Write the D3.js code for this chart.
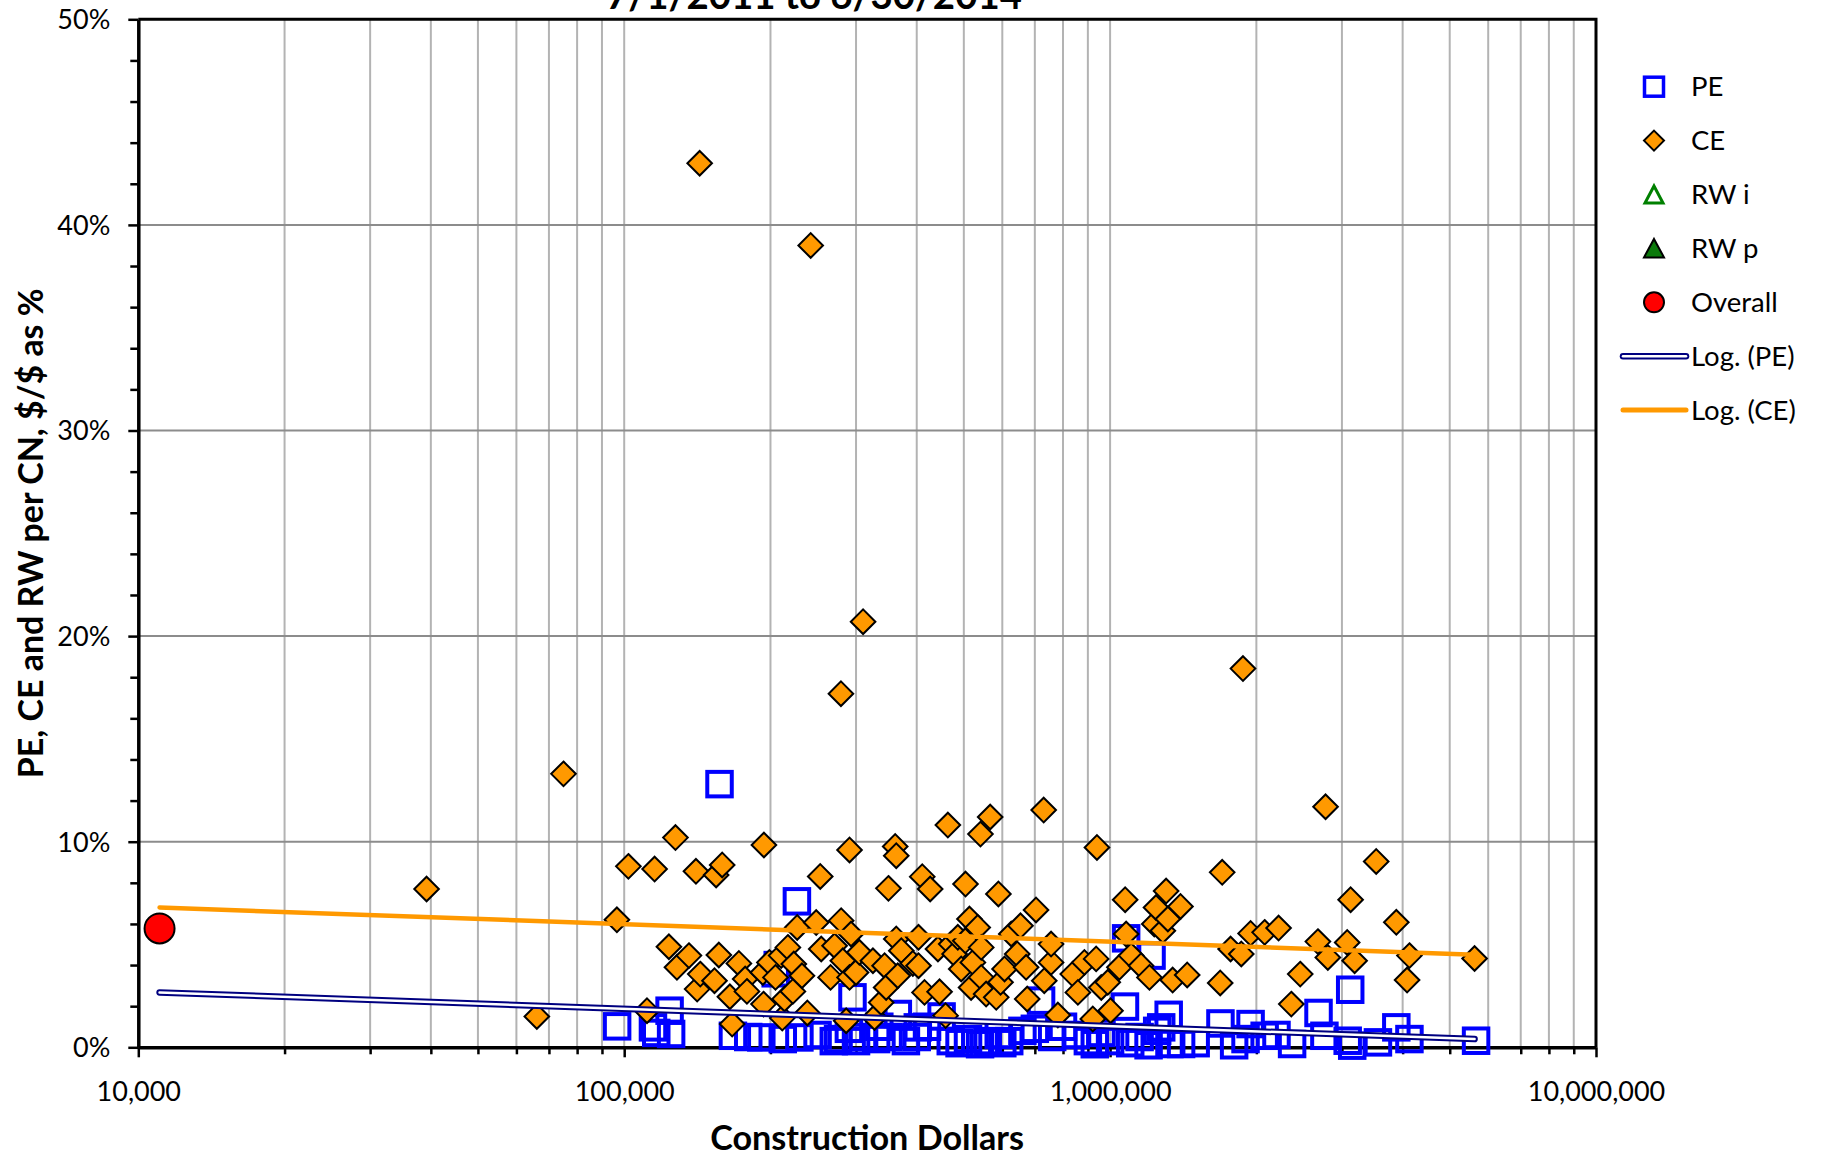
<!DOCTYPE html>
<html><head><meta charset="utf-8">
<script src="https://cdn.jsdelivr.net/npm/d3@7"></script>
<style>
body{margin:0;background:#fff}
svg{display:block}
text{font-family:Lato,"Open Sans",sans-serif;fill:#000}
</style>
</head><body>
<svg id="chart" width="1822" height="1157"></svg>
<script>
// ---------------- data ----------------
const titleText = "7/1/2011 to 6/30/2014";
const xAxisTitle = "Construction Dollars";
const yAxisTitle = "PE, CE and RW per CN, $/$ as %";
const xTickValues = [1e4, 1e5, 1e6, 1e7];
const xTickLabels = ["10,000", "100,000", "1,000,000", "10,000,000"];
const yTickValues = [0, 10, 20, 30, 40, 50];
const yTickLabels = ["0%", "10%", "20%", "30%", "40%", "50%"];
const legendLabels = ["PE", "CE", "RW i", "RW p", "Overall", "Log. (PE)", "Log. (CE)"];

const peX = [96700,124000,116400,124900,114600,157100,167400,180000,191500,207000,205000,226700,229400,212000,
  250000,270000,275500,295000,290000,300000,310000,330000,335000,350000,365700,380000,400000,402000,420000,450000,
  470000,490000,510000,540000,560000,590000,600000,620000,660000,700000,721000,760000,800000,850000,900000,930000,
  960000,1000000,1073000,1079000,1217000,1100000,1150000,1200000,1250000,1274000,1320000,1325000,1400000,1500000,
  1687000,1800000,1900000,1946000,2080000,2200000,2369000,2685000,2761000,3083000,3120000,3150000,3558000,3882000,
  4131000,5665000];
const peY = [1.02,1.78,0.70,0.65,0.97,12.8,0.56,0.50,0.48,4.0,3.6,7.1,0.48,0.40,
  0.60,0.30,0.40,2.43,0.90,0.30,0.50,0.40,1.00,0.50,1.62,0.30,0.50,0.97,1.00,1.50,
  0.30,0.20,0.40,0.15,0.30,0.60,0.20,0.30,0.80,0.90,2.27,0.50,1.00,0.60,0.30,0.15,
  0.70,0.30,1.98,5.30,4.46,0.20,0.50,0.10,0.80,0.97,1.58,0.16,0.16,0.20,
  1.16,0.10,0.40,1.13,0.56,0.60,0.16,1.67,0.56,0.32,2.80,0.08,0.24,0.97,
  0.40,0.32];

const ceX = [39200,66100,75000,96600,102000,111400,115500,123600,127500,128400,135900,140500,141300,143400,143000,
  153400,154600,156600,159100,165000,166800,172200,177400,178900,192900,193500,193900,199000,204800,210400,211500,
  213800,217200,222400,223400,227000,232200,238200,242000,248400,253200,254400,265900,271000,279300,279600,281800,
  286300,290900,290900,293000,300000,304800,310200,325000,327500,338000,343500,346000,349800,361200,363000,363000,
  365600,371800,392700,403400,403400,410600,415000,426300,442300,445700,458600,463600,471000,478600,486000,493900,
  503500,504000,513500,517500,521900,534000,541000,543000,543000,555700,566500,583000,589000,595000,606400,626000,
  644000,654000,671700,675200,704000,730000,732000,756000,756000,780700,837800,858400,885400,921300,936000,939600,
  959000,989000,1002000,1045000,1074000,1079000,1105000,1158000,1205000,1233000,1243000,1284000,1304000,1315000,
  1345000,1396000,1441000,1685000,1701000,1770000,1862000,1877000,1946000,2080000,2222000,2360000,2462000,2677000,
  2776000,2806000,3076000,3126000,3186000,3529000,3882000,4085000,4131000,5625000];
const ceY = [7.7,1.5,13.3,6.2,8.8,1.78,8.67,4.89,10.2,3.89,4.46,8.56,2.83,3.56,43.0,
  3.24,8.38,4.49,8.87,2.46,1.13,4.08,3.32,2.72,3.64,2.1,9.84,4.13,3.4,4.46,1.42,
  2.35,4.86,2.72,4.05,5.83,3.48,1.67,39.0,6.07,8.31,4.78,3.4,4.94,17.2,6.16,4.21,
  1.29,9.6,3.4,5.51,3.64,4.62,20.7,4.21,1.45,2.18,3.97,2.91,7.73,9.77,9.32,5.27,
  3.48,4.7,4.08,5.35,3.97,8.3,2.67,7.7,4.78,2.7,1.54,10.81,5.02,4.54,5.35,3.81,
  5.18,7.94,6.24,2.91,4.13,5.83,10.37,4.86,3.4,2.59,11.2,2.43,7.46,3.16,3.81,5.51,
  4.54,5.91,3.89,2.35,6.68,11.54,3.24,4.13,5.02,1.57,3.56,2.67,4.13,1.38,4.3,9.72,
  2.91,3.16,1.78,3.89,7.18,5.51,4.46,3.97,3.4,6.0,6.8,5.67,7.6,6.24,
  3.27,6.85,3.52,3.13,8.51,4.78,4.54,18.42,5.54,5.59,5.8,2.1,3.56,5.14,
  11.7,4.37,5.1,7.18,4.21,9.04,6.08,3.27,4.46,4.32];

const overallX = [11060];
const overallY = [5.78];
const trendPEX = [11060, 5625000];
const trendPEY = [2.67, 0.40];
const trendCEX = [11060, 5625000];
const trendCEY = [6.80, 4.50];

// ---------------- chart ----------------
const svg = d3.select("#chart");
const L = 138.3, R = 1596, T = 19.3, B = 1047.3;
const x = d3.scaleLog().domain([1e4, 1e7]).range([L, R]);
const y = d3.scaleLinear().domain([0, 50]).range([B, T]);

svg.append("rect").attr("width", 1822).attr("height", 1157).attr("fill", "#fff");

// gridlines
const g = svg.append("g");
g.selectAll("line.vg").data(x.ticks().filter(d => d > 1e4 && d < 1e7)).join("line")
  .attr("x1", d => x(d)).attr("x2", d => x(d)).attr("y1", T).attr("y2", B)
  .attr("stroke", "#b3b3b3").attr("stroke-width", 2);
g.selectAll("line.hg").data(yTickValues.filter(d => d > 0 && d < 50)).join("line")
  .attr("x1", L).attr("x2", R).attr("y1", d => y(d)).attr("y2", d => y(d))
  .attr("stroke", "#8c8c8c").attr("stroke-width", 2);

// plot border (top/right)
svg.append("path").attr("d", `M${L},${T}H${R}V${B}`).attr("fill", "none")
  .attr("stroke", "#000").attr("stroke-width", 3);

// axes
const xAxis = d3.axisBottom(x).tickValues(x.ticks()).tickSizeOuter(0)
  .tickFormat(d => { const i = xTickValues.indexOf(d); return i >= 0 ? xTickLabels[i] : ""; });
const gx = svg.append("g").attr("transform", `translate(0,${B})`).call(xAxis);
gx.select(".domain").attr("stroke", "#000").attr("stroke-width", 3.5);
gx.selectAll(".tick line").attr("stroke", "#000").attr("stroke-width", 2.5)
  .attr("y2", d => xTickValues.includes(d) ? 10 : 7);
gx.selectAll(".tick text").attr("y", 44).attr("dy", "0.35em").attr("font-size", 27)
  .attr("font-family", "Lato").attr("fill", "#000");

const yAxis = d3.axisLeft(y).tickValues(d3.range(0, 51, 2)).tickSizeOuter(0)
  .tickFormat(d => { const i = yTickValues.indexOf(d); return i >= 0 ? yTickLabels[i] : ""; });
const gy = svg.append("g").attr("transform", `translate(${L},0)`).call(yAxis);
gy.select(".domain").attr("stroke", "#000").attr("stroke-width", 3.5);
gy.selectAll(".tick line").attr("stroke", "#000").attr("stroke-width", 2.5)
  .attr("x2", d => yTickValues.includes(d) ? -10 : -8);
gy.selectAll(".tick text").attr("x", -28).attr("dy", "0.35em").attr("font-size", 27)
  .attr("font-family", "Lato").attr("fill", "#000");

// PE squares
const peData = peX.map((v, i) => [v, peY[i]]);
const ceData = ceX.map((v, i) => [v, ceY[i]]);
const sq = 24.5;
svg.append("g").selectAll("rect").data(peData).join("rect")
  .attr("x", d => x(d[0]) - sq / 2).attr("y", d => y(d[1]) - sq / 2)
  .attr("width", sq).attr("height", sq)
  .attr("fill", "none").attr("stroke", "#0000ff").attr("stroke-width", 4);

// CE diamonds
const dm = 12.3;
const diamond = r => `M0,${-r}L${r},0L0,${r}L${-r},0Z`;
svg.append("g").selectAll("path").data(ceData).join("path")
  .attr("transform", d => `translate(${x(d[0])},${y(d[1])})`)
  .attr("d", diamond(dm)).attr("fill", "#ff9900").attr("stroke", "#000").attr("stroke-width", 2);

// Overall
svg.append("g").selectAll("circle").data(overallX.map((v, i) => [v, overallY[i]])).join("circle")
  .attr("cx", d => x(d[0])).attr("cy", d => y(d[1])).attr("r", 15)
  .attr("fill", "#ff0000").attr("stroke", "#000").attr("stroke-width", 2);

// trendlines
const line = d3.line().x(d => x(d[0])).y(d => y(d[1]));
const tPE = trendPEX.map((v, i) => [v, trendPEY[i]]);
const tCE = trendCEX.map((v, i) => [v, trendCEY[i]]);
svg.append("path").attr("d", line(tPE)).attr("fill", "none").attr("stroke", "#000080")
  .attr("stroke-width", 6.5).attr("stroke-linecap", "round");
svg.append("path").attr("d", line(tPE)).attr("fill", "none").attr("stroke", "#fff")
  .attr("stroke-width", 2.5).attr("stroke-linecap", "round");
svg.append("path").attr("d", line(tCE)).attr("fill", "none").attr("stroke", "#ff9900")
  .attr("stroke-width", 4.5).attr("stroke-linecap", "round");

// legend
const lg = svg.append("g");
const rowY = i => 86.7 + i * 53.9;
const mx = 1654, tx = 1691;
lg.append("rect").attr("x", mx - 9.5).attr("y", rowY(0) - 9.5).attr("width", 19).attr("height", 19)
  .attr("fill", "none").attr("stroke", "#0000ff").attr("stroke-width", 3.5);
lg.append("path").attr("transform", `translate(${mx},${rowY(1)})`).attr("d", diamond(10))
  .attr("fill", "#ff9900").attr("stroke", "#000").attr("stroke-width", 2);
lg.append("path").attr("transform", `translate(${mx},${rowY(2)})`).attr("d", "M0,-8.5L9,8.5L-9,8.5Z")
  .attr("fill", "#fff").attr("stroke", "#008000").attr("stroke-width", 3).attr("stroke-linejoin", "miter");
lg.append("path").attr("transform", `translate(${mx},${rowY(3)})`).attr("d", "M0,-9.5L10,9L-10,9Z")
  .attr("fill", "#0b7a0b").attr("stroke", "#000").attr("stroke-width", 2);
lg.append("circle").attr("cx", mx).attr("cy", rowY(4)).attr("r", 10)
  .attr("fill", "#ff0000").attr("stroke", "#000").attr("stroke-width", 2);
lg.append("line").attr("x1", 1623).attr("x2", 1686).attr("y1", rowY(5)).attr("y2", rowY(5))
  .attr("stroke", "#000080").attr("stroke-width", 6.5).attr("stroke-linecap", "round");
lg.append("line").attr("x1", 1623).attr("x2", 1686).attr("y1", rowY(5)).attr("y2", rowY(5))
  .attr("stroke", "#fff").attr("stroke-width", 2.5).attr("stroke-linecap", "round");
lg.append("line").attr("x1", 1623).attr("x2", 1686).attr("y1", rowY(6)).attr("y2", rowY(6))
  .attr("stroke", "#ff9900").attr("stroke-width", 5).attr("stroke-linecap", "round");
lg.selectAll("text").data(legendLabels).join("text")
  .attr("x", tx).attr("y", (d, i) => rowY(i)).attr("dy", "0.35em")
  .attr("font-size", 27.5).text(d => d);

// titles
function fitWidth(sel, target) {
  const fs = +sel.attr("font-size");
  const w = sel.node().getComputedTextLength();
  if (w > 0) sel.attr("font-size", fs * target / w);
}
const tt = svg.append("text").attr("x", 814).attr("y", 9).attr("text-anchor", "middle")
  .attr("font-weight", "bold").attr("font-size", 38).text(titleText);
fitWidth(tt, 416);
const xt = svg.append("text").attr("x", (L + R) / 2).attr("y", 1138).attr("dy", "0.35em")
  .attr("text-anchor", "middle").attr("font-weight", "bold").attr("font-size", 33).text(xAxisTitle);
fitWidth(xt, 314);
const yt = svg.append("text").attr("transform", `translate(31,${(T + B) / 2}) rotate(-90)`)
  .attr("dy", "0.35em").attr("text-anchor", "middle").attr("font-weight", "bold")
  .attr("font-size", 33).text(yAxisTitle);
fitWidth(yt, 490);
</script>
</body></html>
